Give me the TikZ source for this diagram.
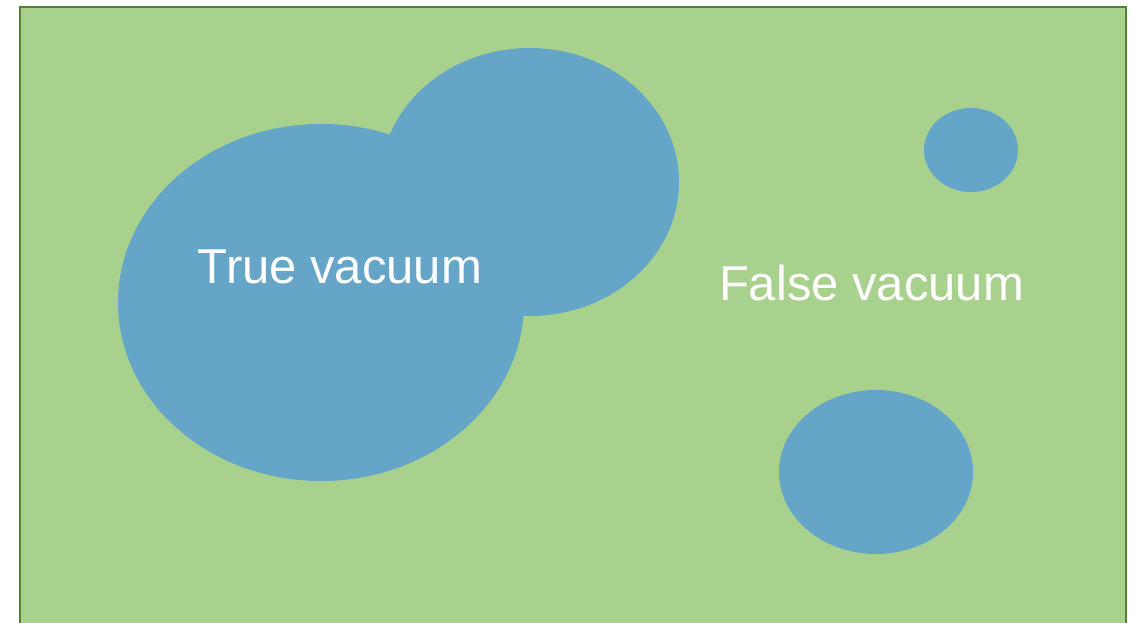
\documentclass[tikz,border=0pt]{standalone}
\usepackage{fontspec}
\setmainfont{Liberation Sans}
\definecolor{bggreen}{HTML}{A9D18E}
\definecolor{edgegreen}{HTML}{538135}
\definecolor{bubble}{HTML}{64A5C8}
\begin{document}
\begin{tikzpicture}[x=1pt,y=-1pt,
  bubblestyle/.style={fill=bubble,draw=none},
  labelstyle/.style={text=white,font=\fontsize{49}{59}\selectfont,anchor=base,inner sep=0pt}]
\useasboundingbox (0,0) rectangle (1132,623);
\begin{scope}
\clip (0,0) rectangle (1132,623);
\draw[fill=bggreen,draw=edgegreen,line width=2.5pt] (20,7) rectangle (1126,640);
\fill[bubblestyle] (529.6,182) ellipse [x radius=149.4, y radius=134];
\fill[bubblestyle] (321,302.5) ellipse [x radius=203, y radius=178.5];
\fill[bubblestyle] (971,150) ellipse [x radius=47, y radius=42];
\fill[bubblestyle] (876,472) ellipse [x radius=97, y radius=82];
\end{scope}
\node[labelstyle] (tv) at (340,283) {True vacuum};
\node[labelstyle] (fv) at (871.5,300) {False vacuum};
\end{tikzpicture}
\end{document}
